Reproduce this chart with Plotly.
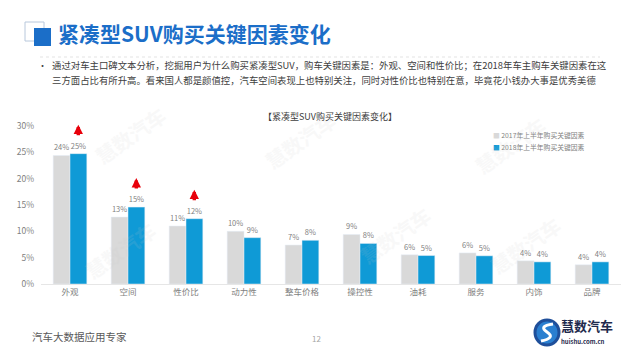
import plotly.graph_objects as go

categories = ["外观", "空间", "性价比", "动力性", "整车价格", "操控性", "油耗", "服务", "内饰", "品牌"]
values_2017 = [0.244, 0.127, 0.110, 0.100, 0.074, 0.094, 0.0555, 0.059, 0.044, 0.0365]
values_2018 = [0.2475, 0.146, 0.124, 0.088, 0.083, 0.077, 0.054, 0.0535, 0.042, 0.042]
rising = ["外观", "空间", "性价比"]
tick_vals = [0, 0.05, 0.10, 0.15, 0.20, 0.25, 0.30]
tick_text = ["0%", "5%", "10%", "15%", "20%", "25%", "30%"]
series_names = ["2017年上半年购买关键因素", "2018年上半年购买关键因素"]

FONT = "Noto Sans CJK SC, Microsoft YaHei, sans-serif"
GRAY = "#d9d9d9"
BLUE = "#0f9ad6"

fig = go.Figure()
fig.add_trace(go.Bar(x=categories, y=values_2017, name=series_names[0], marker_color=GRAY,
                     text=values_2017, texttemplate="%{y:.0%}", textposition="outside",
                     textfont=dict(size=7.5, color="#7f7f7f"), cliponaxis=False))
fig.add_trace(go.Bar(x=categories, y=values_2018, name=series_names[1], marker_color=BLUE,
                     text=values_2018, texttemplate="%{y:.0%}", textposition="outside",
                     textfont=dict(size=7.5, color="#7f7f7f"), cliponaxis=False))

W, H = 630, 355
L, R, T, B = 41, 9, 126, 71
pw, ph = W - L - R, H - T - B
def px(x):
    return (x - L) / pw
def py(y):
    return (H - B - y) / ph

anns = []
# red rising arrows above 2018 bars
for c in rising:
    v = values_2018[categories.index(c)]
    anns.append(dict(x=c, y=v, xref="x", yref="y", xshift=8.3, yshift=29,
                     showarrow=True, ax=0, ay=12, text="", arrowhead=2,
                     arrowsize=0.55, arrowwidth=3.4, arrowcolor="#e8000b", standoff=0, startstandoff=0))

def add_text(x, y, text, size, color, bold=False, xanchor="left", angle=0, opacity=1):
    anns.append(dict(x=px(x), y=py(y), xref="paper", yref="paper", text=("<b>%s</b>" % text) if bold else text,
                     showarrow=False, xanchor=xanchor, yanchor="middle", textangle=angle, opacity=opacity,
                     font=dict(size=size, color=color, family=FONT)))

# chart title
add_text(330, 117, "【紧凑型SUV购买关键因素变化】", 9, "#404040", xanchor="center")

# header
add_text(56, 33, "紧凑型SUV购买关键因素变化", 21, "#1b6ec8", bold=True)
add_text(36, 65, "•", 9, "#404040")
add_text(50, 65, "通过对车主口碑文本分析，挖掘用户为什么购买紧凑型SUV，购车关键因素是：外观、空间和性价比；在2018年车主购车关键因素在这", 9.4, "#404040")
add_text(50, 80, "三方面占比有所升高。看来国人都是颜值控，汽车空间表现上也特别关注，同时对性价比也特别在意，毕竟花小钱办大事是优秀美德", 9.4, "#404040")

# legend
add_text(491, 135, "<span style='color:%s'>■</span> %s" % (GRAY, series_names[0]), 6.8, "#7f7f7f")
add_text(491, 147, "<span style='color:%s'>■</span> %s" % (BLUE, series_names[1]), 6.8, "#7f7f7f")

# watermarks
for (wx, wy) in [(130, 135), (300, 140), (120, 250), (510, 145), (525, 245), (395, 235)]:
    add_text(wx, wy, "慧数汽车", 20, "#c8c8c8", bold=True, xanchor="center", angle=-35, opacity=0.12)

# footer
add_text(30, 336, "汽车大数据应用专家", 10.5, "#595959")
add_text(316, 338, "12", 8, "#a6a6a6", xanchor="center")
add_text(559, 325, "慧数汽车", 13, "#1f2a4d", bold=True)
add_text(559, 341, "huishu.com.cn", 6, "#1f2a4d", bold=True)

shapes = []
def rect(x0, y0, x1, y1, **kw):
    shapes.append(dict(type="rect", xref="paper", yref="paper", x0=px(x0), x1=px(x1), y0=py(y1), y1=py(y0), **kw))

# header icon
rect(25, 22, 44, 41, line=dict(color="#b8c8dc", width=1), fillcolor="rgba(0,0,0,0)")
rect(34, 28, 51, 46, line=dict(width=0), fillcolor="#1b6ec8")
# faint dotted line under header
shapes.append(dict(type="line", xref="paper", yref="paper", x0=px(40), x1=px(600), y0=py(57), y1=py(57),
                   line=dict(color="#e3e3e3", width=1, dash="dot")))
# logo icon
shapes.append(dict(type="circle", xref="paper", yref="paper", x0=px(535), x1=px(559), y0=py(345), y1=py(320),
                   line=dict(color="#1f4f9a", width=3), fillcolor="#2a7fd0"))
shapes.append(dict(type="path", xref="paper", yref="paper",
                   path="M %f %f Q %f %f %f %f Q %f %f %f %f" % (px(553), py(324), px(538), py(326), px(547), py(332),
                                                                px(556), py(338), px(541), py(341)),
                   line=dict(color="white", width=3)))

fig.update_layout(
    width=W, height=H,
    margin=dict(l=L, r=R, t=T, b=B, autoexpand=False),
    paper_bgcolor="white", plot_bgcolor="white",
    barmode="group", bargap=0.42, bargroupgap=0,
    showlegend=False,
    font=dict(family=FONT),
    xaxis=dict(showline=True, linecolor="#e6e6e6", linewidth=1, ticks="",
               tickfont=dict(size=8.5, color="#7f7f7f"), showgrid=False),
    yaxis=dict(range=[0, 0.30], tickvals=tick_vals, ticktext=tick_text, showgrid=False,
               zeroline=False, showline=False, tickfont=dict(size=8.5, color="#7f7f7f"),
               ticklabelstandoff=6),
    annotations=anns, shapes=shapes,
)

fig.write_html("out.html", config={"displayModeBar": False},
               post_script="document.body.style.margin='0';document.body.style.overflow='hidden';")
